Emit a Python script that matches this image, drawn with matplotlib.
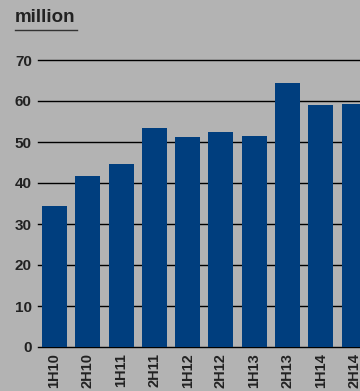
import matplotlib
matplotlib.use("Agg")
import matplotlib.pyplot as plt
from matplotlib.lines import Line2D

periods = ["1H10", "2H10", "1H11", "2H11", "1H12", "2H12", "1H13", "2H13", "1H14", "2H14"]
values = [34.3, 41.6, 44.6, 53.3, 51.1, 52.4, 51.4, 64.4, 59.0, 59.3]
yticks = [0, 10, 20, 30, 40, 50, 60, 70]
unit_label = "million"

bg = "#b3b3b3"
bar_color = "#003e7e"
text_color = "#222222"

plt.rcParams["font.family"] = ["Liberation Sans", "DejaVu Sans"]

fig = plt.figure(figsize=(3.6, 3.91), dpi=100, facecolor=bg)
ax = fig.add_axes([38 / 360, 44 / 391, 322 / 360, 287 / 391])
ax.set_facecolor(bg)

x = list(range(len(periods)))
ax.bar(x, values, width=0.75, color=bar_color, zorder=3)

ax.set_ylim(0, 70)
ax.set_xlim(-0.495, 9.175)
ax.set_yticks(yticks)
ax.set_yticklabels([str(v) for v in yticks], fontsize=11, fontweight="bold",
                   color=text_color)
ax.set_xticks(x)
ax.set_xticklabels(periods, rotation=90, fontsize=10.5, fontweight="bold",
                   color=text_color, va="top", ha="center")
ax.tick_params(axis="both", length=0)
ax.tick_params(axis="y", pad=4.5)
ax.tick_params(axis="x", pad=4.5)

for s in ax.spines.values():
    s.set_visible(False)

# horizontal gridlines behind bars
for v in yticks:
    ax.axhline(v, color="black", lw=1.0, zorder=1.5, clip_on=False)

# unit label with underline
fig.text(15 / 360, 1 - 22.5 / 391, unit_label, fontsize=13.5, fontweight="bold",
         color=text_color, ha="left", va="baseline")
fig.add_artist(Line2D([15 / 360, 77 / 360], [1 - 29.5 / 391, 1 - 29.5 / 391],
                      color="#333333", lw=1.0, transform=fig.transFigure))

fig.savefig("out.png", dpi=100, facecolor=bg)
